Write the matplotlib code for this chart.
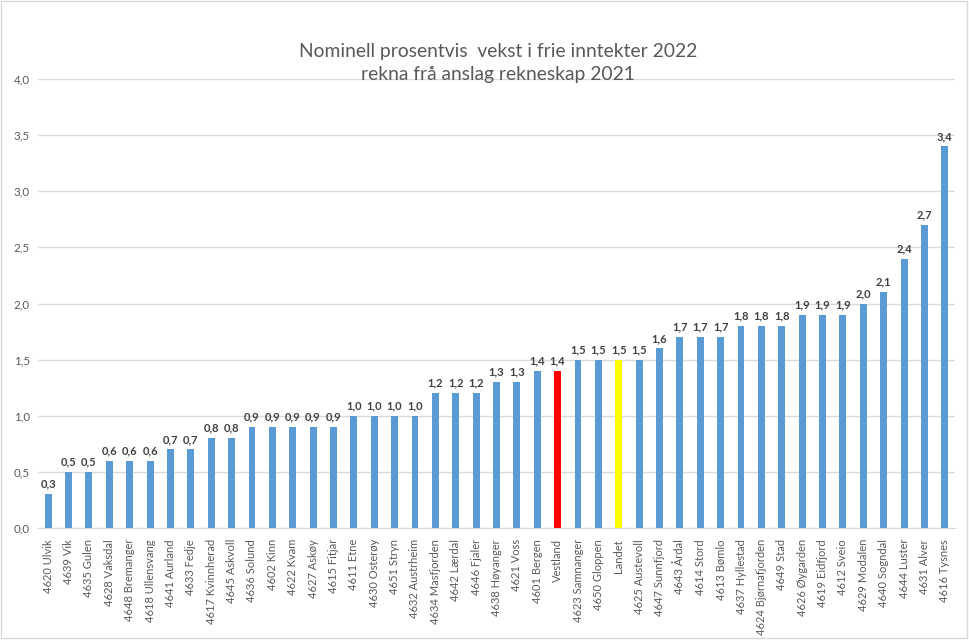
import matplotlib
matplotlib.use("Agg")
import matplotlib.pyplot as plt
from matplotlib.patches import Rectangle

labels = ["4620 Ulvik", "4639 Vik", "4635 Gulen", "4628 Vaksdal", "4648 Bremanger",
          "4618 Ullensvang", "4641 Aurland", "4633 Fedje", "4617 Kvinnherad", "4645 Askvoll",
          "4636 Solund", "4602 Kinn", "4622 Kvam", "4627 Askøy", "4615 Fitjar",
          "4611 Etne", "4630 Osterøy", "4651 Stryn", "4632 Austrheim", "4634 Masfjorden",
          "4642 Lærdal", "4646 Fjaler", "4638 Høyanger", "4621 Voss", "4601 Bergen",
          "Vestland", "4623 Samnanger", "4650 Gloppen", "Landet", "4625 Austevoll",
          "4647 Sunnfjord", "4643 Årdal", "4614 Stord", "4613 Bømlo", "4637 Hyllestad",
          "4624 Bjørnafjorden", "4649 Stad", "4626 Øygarden", "4619 Eidfjord", "4612 Sveio",
          "4629 Modalen", "4640 Sogndal", "4644 Luster", "4631 Alver", "4616 Tysnes"]
values = [0.3, 0.5, 0.5, 0.6, 0.6, 0.6, 0.7, 0.7, 0.8, 0.8,
          0.9, 0.9, 0.9, 0.9, 0.9, 1.0, 1.0, 1.0, 1.0, 1.2,
          1.2, 1.2, 1.3, 1.3, 1.4, 1.4, 1.5, 1.5, 1.5, 1.5,
          1.6, 1.7, 1.7, 1.7, 1.8, 1.8, 1.8, 1.9, 1.9, 1.9,
          2.0, 2.1, 2.4, 2.7, 3.4]
highlight = {"Vestland": "#FF0000", "Landet": "#FFFF00"}
yticks = [0.0, 0.5, 1.0, 1.5, 2.0, 2.5, 3.0, 3.5, 4.0]
title = "Nominell prosentvis  vekst i frie inntekter 2022\nrekna frå anslag rekneskap 2021"

plt.rcParams['font.family'] = ['Lato', 'DejaVu Sans']
txt = "#595959"

fig = plt.figure(figsize=(9.69, 6.4), dpi=100)
ax = fig.add_axes([38/969, 1 - 528/640, (955 - 38)/969, (528 - 79)/640])

x = list(range(len(labels)))
colors = [highlight.get(l, "#5B9BD5") for l in labels]
ax.bar(x, values, width=0.34, color=colors, zorder=3)
for xi, v in zip(x, values):
    ax.text(xi, v + 0.04, f"{v:.1f}".replace(".", ","), ha="center", va="bottom",
            fontsize=8, fontweight="bold", color="#404040")

ax.set_xlim(-0.5, len(labels) - 0.5)
ax.set_ylim(0, 4.0)
ax.set_yticks(yticks)
ax.set_yticklabels([f"{t:.1f}".replace(".", ",") for t in yticks], fontsize=8.3, color=txt)
ax.set_xticks(x)
ax.set_xticklabels(labels, rotation=90, fontsize=8, color=txt)
ax.tick_params(axis="both", length=0, pad=6)
ax.tick_params(axis="x", pad=8)
ax.grid(axis="y", color="#D9D9D9", linewidth=1, zorder=0)
for s in ["top", "right", "left"]:
    ax.spines[s].set_visible(False)
ax.spines["bottom"].set_color("#D9D9D9")

fig.text(498/969, 1 - 63/640, title, ha="center", va="center", fontsize=13.9, color=txt,
         linespacing=1.4)

fig.patches.append(Rectangle((0.001, 0.003), 0.997, 0.996, transform=fig.transFigure,
                             fill=False, edgecolor="#D9D9D9", linewidth=1))

fig.savefig("out.png", dpi=100, facecolor="white")
